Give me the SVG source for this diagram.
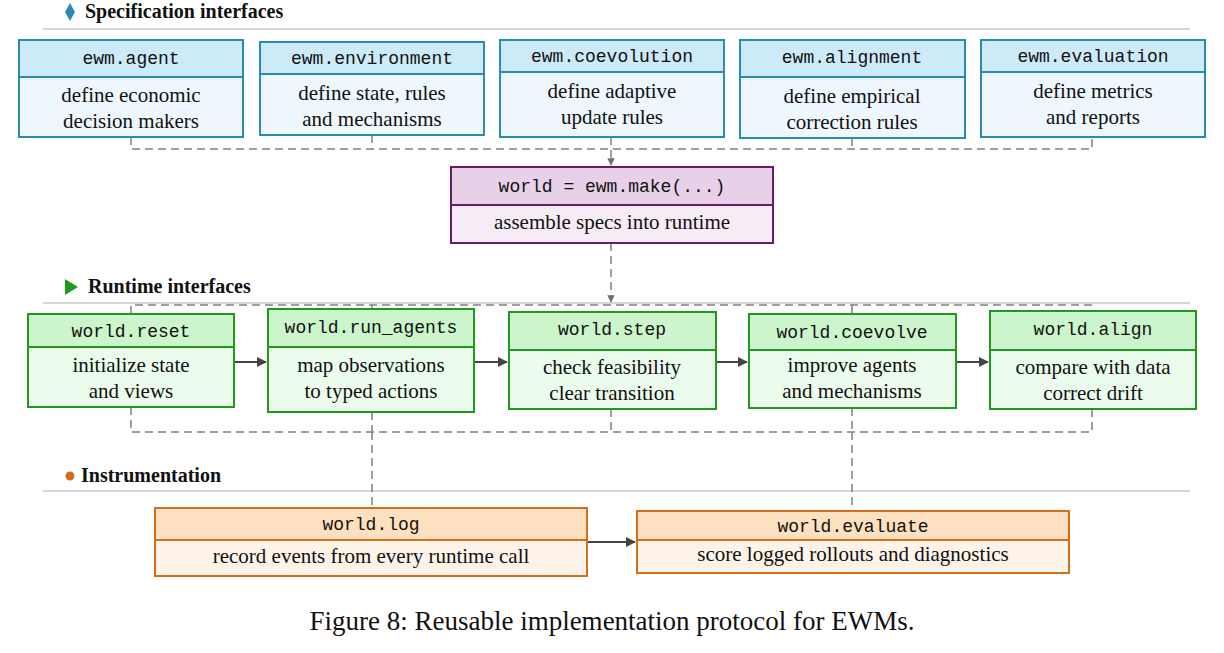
<svg xmlns="http://www.w3.org/2000/svg" width="1224" height="653" viewBox="0 0 1224 653">
<style>
.m{font-family:"Liberation Mono","DejaVu Sans Mono",monospace;font-size:18px;text-anchor:middle;fill:#111}
.s{font-family:"Liberation Serif","DejaVu Serif",serif;font-size:21px;text-anchor:middle;fill:#111}
.h{font-family:"Liberation Serif",serif;font-size:20px;font-weight:bold;fill:#111}
.b rect{stroke:#2a8bb0;stroke-width:2}.b .t{fill:#cdeaf8}.b .d{fill:#eef7fd}
.p rect{stroke:#6b1a6b;stroke-width:2}.p .t{fill:#e8d0e8}.p .d{fill:#f5ecf5}
.g rect{stroke:#1f9a1f;stroke-width:2}.g .t{fill:#ccf5cc}.g .d{fill:#ecfcec}
.o rect{stroke:#d0701a;stroke-width:2}.o .t{fill:#fde0c0}.o .d{fill:#fef3e8}
.dash{fill:none;stroke:#808080;stroke-width:1.5;stroke-dasharray:8 5}
.sol{fill:none;stroke:#444;stroke-width:2}
.sep{stroke:#c8c8c8;stroke-width:1.5}
</style>
<defs>
<marker id="ag" viewBox="0 0 10 10" refX="9" refY="5" markerWidth="5" markerHeight="5" orient="auto"><path d="M0,0L10,5L0,10z" fill="#707070"/></marker>
<marker id="ak" viewBox="0 0 10 10" refX="9" refY="5" markerWidth="5" markerHeight="5" orient="auto"><path d="M0,0L10,5L0,10z" fill="#444"/></marker>
</defs>
<rect width="1224" height="653" fill="#fff"/>
<g id="headers">
<path d="M70,3L75,12L70,21L65,12z" fill="#2a8bb0"/>
<text class="h" x="85" y="18">Specification interfaces</text>
<line class="sep" x1="43" y1="29" x2="1190" y2="29"/>
<path d="M65,279L78,287L65,295z" fill="#1f9a1f"/>
<text class="h" x="88" y="293">Runtime interfaces</text>
<line class="sep" x1="43" y1="303" x2="1190" y2="303"/>
<circle cx="70" cy="476" r="4.5" fill="#d0701a"/>
<text class="h" x="81" y="482">Instrumentation</text>
<line class="sep" x1="43" y1="491" x2="1190" y2="491"/>
</g>
<g id="connectors">
<path class="dash" d="M131,137V149H1092V137M372,135V149M852,138V149"/>
<path class="dash" d="M611,137V165" marker-end="url(#ag)"/>
<path class="dash" d="M611,243V302" marker-end="url(#ag)"/>
<path class="dash" d="M131,314V305H1092V311M372,305V309M852,305V314"/>
<path class="dash" d="M131,407V432H1092V409M372,412V432M611,409V432M852,408V432"/>
<path class="dash" d="M372,432V508M852,432V511"/>
<path class="sol" d="M234,362H266" marker-end="url(#ak)"/>
<path class="sol" d="M474,362H507" marker-end="url(#ak)"/>
<path class="sol" d="M716,362H747" marker-end="url(#ak)"/>
<path class="sol" d="M956,362H988" marker-end="url(#ak)"/>
<path class="sol" d="M587,542H635" marker-end="url(#ak)"/>
</g>
<g id="agent" class="b"><rect class="d" x="19" y="40" width="224" height="97"/><rect class="t" x="19" y="40" width="224" height="37"/>
<text class="m" x="131" y="64">ewm.agent</text><text class="s" x="131" y="102">define economic</text><text class="s" x="131" y="128">decision makers</text></g>
<g id="environment" class="b"><rect class="d" x="260" y="42" width="224" height="93"/><rect class="t" x="260" y="42" width="224" height="32"/>
<text class="m" x="372" y="64">ewm.environment</text><text class="s" x="372" y="100">define state, rules</text><text class="s" x="372" y="126">and mechanisms</text></g>
<g id="coevolution" class="b"><rect class="d" x="500" y="40" width="224" height="97"/><rect class="t" x="500" y="40" width="224" height="32"/>
<text class="m" x="612" y="62">ewm.coevolution</text><text class="s" x="612" y="98">define adaptive</text><text class="s" x="612" y="124">update rules</text></g>
<g id="alignment" class="b"><rect class="d" x="740" y="40" width="225" height="98"/><rect class="t" x="740" y="40" width="225" height="37"/>
<text class="m" x="852" y="63">ewm.alignment</text><text class="s" x="852" y="103">define empirical</text><text class="s" x="852" y="129">correction rules</text></g>
<g id="evaluation" class="b"><rect class="d" x="981" y="40" width="224" height="97"/><rect class="t" x="981" y="40" width="224" height="32"/>
<text class="m" x="1093" y="62">ewm.evaluation</text><text class="s" x="1093" y="98">define metrics</text><text class="s" x="1093" y="124">and reports</text></g>
<g id="make" class="p"><rect class="d" x="451" y="167" width="322" height="76"/><rect class="t" x="451" y="167" width="322" height="38"/>
<text class="m" x="612" y="192">world = ewm.make(...)</text><text class="s" x="612" y="229">assemble specs into runtime</text></g>
<g id="reset" class="g"><rect class="d" x="28" y="314" width="206" height="93"/><rect class="t" x="28" y="314" width="206" height="33"/>
<text class="m" x="131" y="337">world.reset</text><text class="s" x="131" y="372">initialize state</text><text class="s" x="131" y="398">and views</text></g>
<g id="run_agents" class="g"><rect class="d" x="268" y="309" width="206" height="103"/><rect class="t" x="268" y="309" width="206" height="38"/>
<text class="m" x="371" y="333">world.run_agents</text><text class="s" x="371" y="372">map observations</text><text class="s" x="371" y="398">to typed actions</text></g>
<g id="step" class="g"><rect class="d" x="509" y="312" width="207" height="97"/><rect class="t" x="509" y="312" width="207" height="38"/>
<text class="m" x="612" y="335">world.step</text><text class="s" x="612" y="374">check feasibility</text><text class="s" x="612" y="400">clear transition</text></g>
<g id="coevolve" class="g"><rect class="d" x="749" y="314" width="207" height="94"/><rect class="t" x="749" y="314" width="207" height="36"/>
<text class="m" x="852" y="338">world.coevolve</text><text class="s" x="852" y="372">improve agents</text><text class="s" x="852" y="398">and mechanisms</text></g>
<g id="align" class="g"><rect class="d" x="990" y="311" width="206" height="98"/><rect class="t" x="990" y="311" width="206" height="39"/>
<text class="m" x="1093" y="335">world.align</text><text class="s" x="1093" y="374">compare with data</text><text class="s" x="1093" y="400">correct drift</text></g>
<g id="log" class="o"><rect class="d" x="155" y="508" width="432" height="68"/><rect class="t" x="155" y="508" width="432" height="32"/>
<text class="m" x="371" y="530">world.log</text><text class="s" x="371" y="563">record events from every runtime call</text></g>
<g id="evaluate" class="o"><rect class="d" x="637" y="511" width="432" height="62"/><rect class="t" x="637" y="511" width="432" height="29"/>
<text class="m" x="853" y="532">world.evaluate</text><text class="s" x="853" y="561">score logged rollouts and diagnostics</text></g>
<text x="612" y="630" style="font-family:'Liberation Serif',serif;font-size:27px;text-anchor:middle;fill:#111">Figure 8: Reusable implementation protocol for EWMs.</text>
</svg>
